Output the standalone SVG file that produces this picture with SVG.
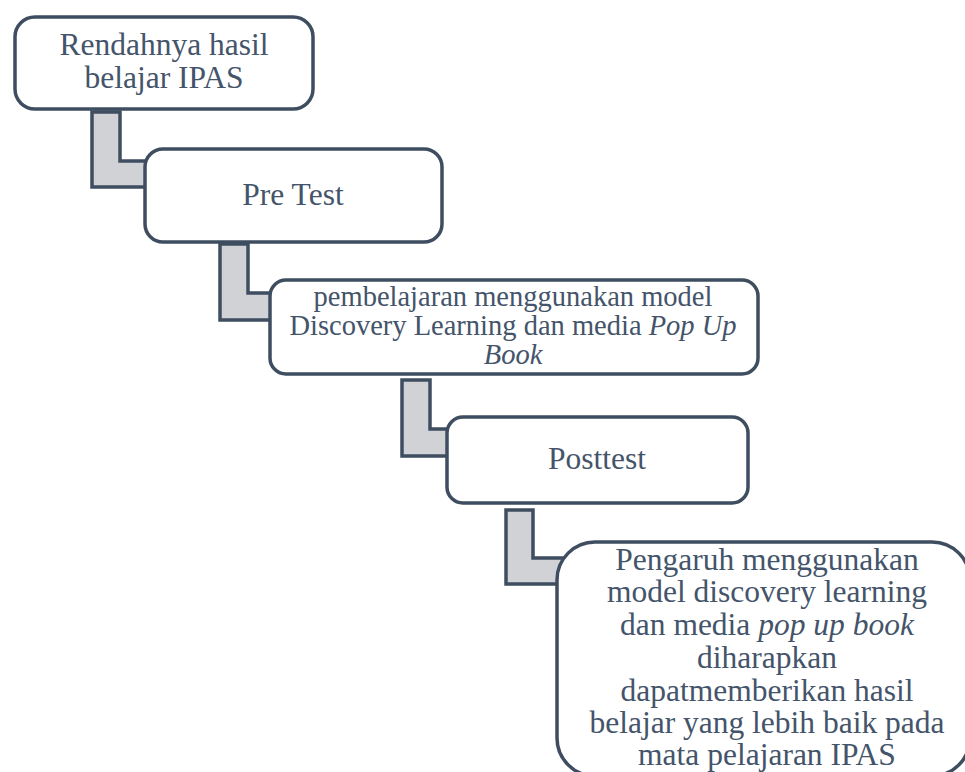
<svg xmlns="http://www.w3.org/2000/svg" width="965" height="772" viewBox="0 0 965 772">
<style>
.box{fill:#ffffff;stroke:#3e4d60;stroke-width:3.5}
.con{fill:#d0d2d6;stroke:#3e4d60;stroke-width:3.5;stroke-linejoin:miter}
.t{font-family:"Liberation Serif","Times New Roman",serif;fill:#44546a;text-anchor:middle}
</style>
<rect width="965" height="772" fill="#ffffff"/>
<g id="connectors">
<polygon class="con" points="92,112 120,112 120,161 150,161 150,187 92,187"/>
<polygon class="con" points="220,244 248,244 248,293 276,293 276,320 220,320"/>
<polygon class="con" points="402,380 430,380 430,429 453,429 453,456 402,456"/>
<polygon class="con" points="506,510 533,510 533,558 580,558 580,584 506,584"/>
</g>
<g id="n1">
<rect class="box" x="15" y="17" width="298" height="92" rx="20"/>
<text class="t" font-size="31.5"><tspan x="164" y="55">Rendahnya hasil</tspan><tspan x="164" y="88">belajar IPAS</tspan></text>
</g>
<g id="n2">
<rect class="box" x="145" y="149" width="297" height="93" rx="18"/>
<text class="t" font-size="31.5" x="293" y="205">Pre Test</text>
</g>
<g id="n3">
<rect class="box" x="270" y="280" width="488" height="94" rx="16"/>
<text class="t" font-size="28.5"><tspan x="513" y="306">pembelajaran menggunakan model</tspan><tspan x="513" y="335">Discovery Learning dan media <tspan font-style="italic">Pop Up</tspan></tspan><tspan x="513" y="364" font-style="italic">Book</tspan></text>
</g>
<g id="n4">
<rect class="box" x="447" y="417" width="301" height="86" rx="16"/>
<text class="t" font-size="31.5" x="597" y="469">Posttest</text>
</g>
<g id="n5">
<rect class="box" x="557" y="542" width="413" height="234" rx="38"/>
<text class="t" font-size="31.5"><tspan x="767" y="570">Pengaruh menggunakan</tspan><tspan x="767" y="602">model discovery learning</tspan><tspan x="767" y="635">dan media <tspan font-style="italic">pop up book</tspan></tspan><tspan x="767" y="668">diharapkan</tspan><tspan x="767" y="701">dapatmemberikan hasil</tspan><tspan x="767" y="733">belajar yang lebih baik pada</tspan><tspan x="767" y="765">mata pelajaran IPAS</tspan></text>
</g>
</svg>
